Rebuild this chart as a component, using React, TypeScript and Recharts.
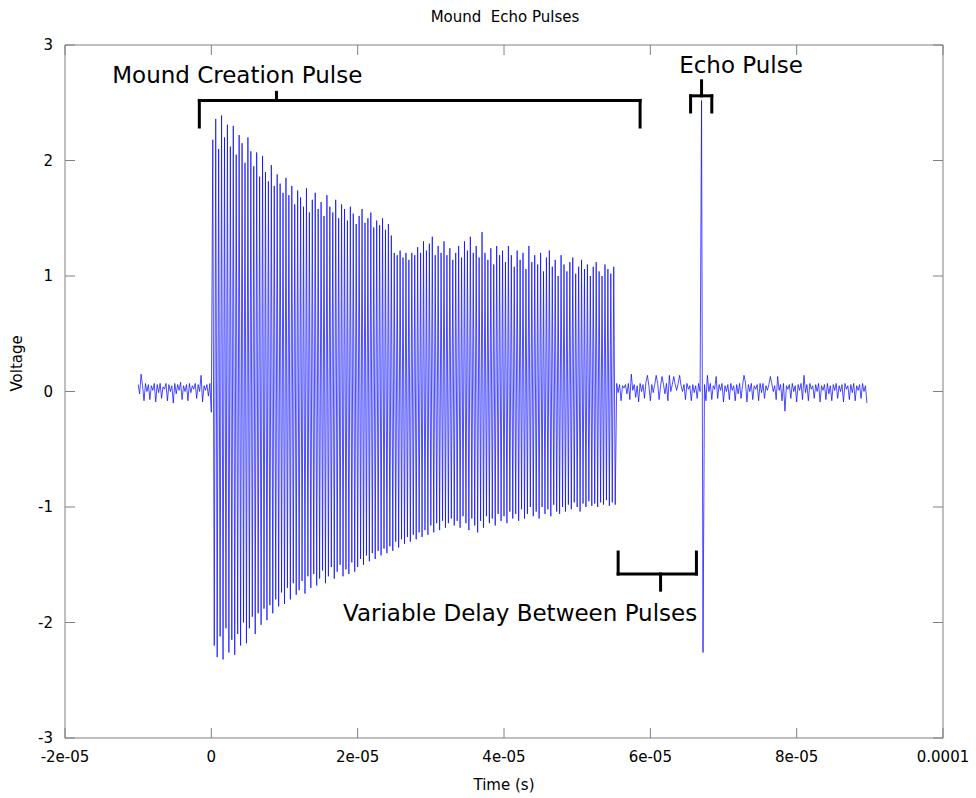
import { LineChart, Line, XAxis, YAxis, ReferenceArea, ReferenceLine, ReferenceDot } from 'recharts';

// scope capture: one sample every 0.2 us
const SAMPLE_STEP = 2e-7;
const LEAD_START = -1e-5;
const PULSE_START = 2e-7;
const GAP_START = 5.54e-5;
const ECHO_START = 6.7e-5;
const TRAIL_START = 6.74e-5;

// baseline noise before the trigger
const leadNoise = [
  0.06, -0.02, 0.15, 0.05, -0.08, 0.07, 0.0, 0.06, -0.07, 0.05, 0.01, 0.07, -0.09, 0.06, -0.01, 0.07, -0.06,
  0.04, 0.02, 0.07, -0.08, 0.06, 0.0, 0.05, -0.1, 0.07, -0.02, 0.06, 0.01, 0.08, -0.07, 0.05, 0.0, 0.06,
  -0.08, 0.07, -0.01, 0.05, 0.02, 0.07, -0.06, 0.06, 0.0, 0.14, -0.09, 0.05, 0.01, 0.06, -0.04, 0.07, -0.18,
];

// mound creation pulse, one positive and one negative peak per cycle
const pulseHighs = [
  2.18, 2.36, 2.1, 2.39, 2.2, 2.31, 2.12, 2.3, 2.05, 2.22,
  2.15, 1.98, 2.2, 2.08, 1.95, 2.07, 1.86, 2.04, 1.9, 1.82,
  1.96, 1.78, 1.88, 1.8, 1.72, 1.85, 1.7, 1.78, 1.62, 1.74,
  1.68, 1.6, 1.76, 1.55, 1.66, 1.72, 1.58, 1.64, 1.52, 1.7,
  1.6, 1.55, 1.66, 1.5, 1.62, 1.58, 1.48, 1.6, 1.54, 1.45,
  1.52, 1.58, 1.46, 1.5, 1.55, 1.42, 1.48, 1.44, 1.5, 1.4,
  1.45, 1.35, 1.2, 1.18, 1.22, 1.16, 1.2, 1.14, 1.2, 1.18,
  1.25, 1.2, 1.3, 1.22, 1.28, 1.34, 1.18, 1.26, 1.2, 1.3,
  1.18, 1.24, 1.14, 1.2, 1.26, 1.16, 1.3, 1.22, 1.34, 1.2,
  1.26, 1.16, 1.38, 1.2, 1.14, 1.24, 1.1, 1.26, 1.18, 1.22,
  1.12, 1.26, 1.18, 1.08, 1.22, 1.14, 1.2, 1.06, 1.26, 1.12,
  1.18, 1.1, 1.2, 1.04, 1.16, 1.22, 1.08, 1.14, 1.0, 1.18,
  1.1, 1.04, 1.12, 1.16, 1.02, 1.08, 1.14, 1.06, 1.1, 1.0,
  1.08, 1.12, 1.04, 1.0, 1.1, 1.06, 1.02, 1.08,
];
const pulseLows = [
  -2.2, -2.3, -2.12, -2.32, -2.05, -2.26, -2.15, -2.28, -2.1, -2.2,
  -2.0, -2.18, -2.05, -1.95, -2.1, -1.92, -2.02, -1.88, -1.98, -1.85,
  -1.92, -1.8, -1.86, -1.74, -1.84, -1.7, -1.8, -1.66, -1.76, -1.72,
  -1.64, -1.75, -1.6, -1.7, -1.58, -1.68, -1.62, -1.55, -1.66, -1.6,
  -1.52, -1.62, -1.56, -1.5, -1.6, -1.54, -1.58, -1.48, -1.56, -1.52,
  -1.45, -1.5, -1.42, -1.47, -1.4, -1.45, -1.38, -1.42, -1.36, -1.4,
  -1.34, -1.38, -1.3, -1.35, -1.28, -1.32, -1.26, -1.3, -1.24, -1.28,
  -1.22, -1.26, -1.2, -1.24, -1.16, -1.22, -1.14, -1.2, -1.12, -1.18,
  -1.14, -1.1, -1.16, -1.12, -1.18, -1.08, -1.14, -1.2, -1.1, -1.16,
  -1.22, -1.12, -1.18, -1.08, -1.14, -1.1, -1.16, -1.06, -1.12, -1.08,
  -1.14, -1.04, -1.1, -1.06, -1.12, -1.02, -1.1, -1.06, -1.0, -1.08,
  -1.04, -1.1, -1.0, -1.06, -1.02, -1.08, -0.98, -1.04, -1.06, -1.0,
  -1.04, -0.98, -1.02, -0.96, -1.0, -1.04, -0.97, -1.0, -0.95, -0.99,
  -0.97, -1.0, -0.96, -0.98, -0.94, -0.99, -0.96, -0.98,
];

// noise between the two pulses
const gapNoise = [
  0.07, -0.01, 0.06, -0.08, 0.05, 0.03, 0.06, -0.02, 0.07, -0.07, 0.15, 0.01, 0.06, -0.05, 0.05, -0.09,
  0.07, 0.0, 0.06, -0.06, 0.08, 0.14, 0.05, -0.08, 0.06, -0.01, 0.06, 0.14, 0.07, -0.07, 0.05, 0.13,
  0.06, -0.02, 0.07, -0.08, 0.14, 0.0, 0.06, 0.13, 0.06, 0.01, 0.07, 0.14, 0.05, 0.0, 0.06, -0.07,
  0.07, 0.02, 0.05, -0.08, 0.06, -0.01, 0.05, -0.06, 0.07, 0.0,
];

const echoPulse = [2.52, -2.26];

// noise after the echo
const trailNoise = [
  0.06, -0.08, 0.14, 0.0, 0.07, -0.07, 0.05, 0.02, 0.13, -0.06, 0.06, 0.01, 0.07, -0.09, 0.05, 0.0,
  0.06, -0.07, 0.07, 0.01, 0.05, -0.08, 0.06, -0.02, 0.07, -0.06, 0.05, 0.14, 0.08, -0.09, 0.06, 0.0,
  0.07, -0.07, 0.05, 0.02, 0.06, -0.08, 0.07, -0.01, 0.07, -0.06, 0.05, 0.01, 0.06, 0.13, 0.07, 0.0,
  0.05, -0.07, 0.13, 0.01, 0.06, -0.08, 0.07, -0.17, 0.05, 0.02, 0.06, -0.06, 0.07, 0.0, 0.05, -0.09,
  0.06, 0.01, 0.07, -0.07, 0.14, -0.01, 0.06, -0.08, 0.07, 0.02, 0.05, -0.06, 0.06, 0.0, 0.07, -0.09,
  0.05, 0.01, 0.06, -0.07, 0.07, -0.02, 0.05, -0.08, 0.06, 0.01, 0.07, -0.06, 0.05, 0.0, 0.06, -0.09,
  0.07, 0.02, 0.05, -0.07, 0.06, -0.01, 0.07, -0.08, 0.05, 0.01, 0.06, -0.06, 0.07, 0.0, 0.05, -0.1,
];

const xTicks = [-2e-5, 0, 2e-5, 4e-5, 6e-5, 8e-5, 1e-4];
const xTickLabels = ['-2e-05', '0', '2e-05', '4e-05', '6e-05', '8e-05', '0.0001'];
const yTicks = [-3, -2, -1, 0, 1, 2, 3];

// bracket annotations: span [from, to] at level, tips reach tipLevel, stem at stemX up/down to stemLevel
const brackets = [
  { from: -1.64e-6, to: 5.86e-5, level: 2.52, tipLevel: 2.29, stemX: 8.9e-6, stemLevel: 2.59 },
  { from: 6.55e-5, to: 6.84e-5, level: 2.56, tipLevel: 2.42, stemX: 6.7e-5, stemLevel: 2.69 },
  { from: 5.56e-5, to: 6.63e-5, level: -1.58, tipLevel: -1.39, stemX: 6.14e-5, stemLevel: -1.72 },
];
const notes = [
  { t: 3.55e-6, v: 2.74, text: 'Mound Creation Pulse' },
  { t: 7.24e-5, v: 2.83, text: 'Echo Pulse' },
  { t: 4.22e-5, v: -1.92, text: 'Variable Delay Between Pulses' },
];

const run = (start: number, values: number[]) =>
  values.map((v, i) => ({ t: start + i * SAMPLE_STEP, v }));

const pulse = pulseHighs.flatMap((h, i) => [h, pulseLows[i]]);

const samples = [
  ...run(LEAD_START, leadNoise),
  ...run(PULSE_START, pulse),
  ...run(GAP_START, gapNoise),
  ...run(ECHO_START, echoPulse),
  ...run(TRAIL_START, trailNoise),
];

const FONT = "'DejaVu Sans', sans-serif";
const WIDTH = 976;
const HEIGHT = 798;
const PLOT_TOP = 45;
const PLOT_BOTTOM = 738;
const PLOT_LEFT = 65;
const PLOT_RIGHT = 943;
const FRAME = '#808080';

function TimeTick(props: any) {
  const { x, payload } = props;
  const label = xTickLabels[xTicks.indexOf(payload.value)];
  return (
    <g>
      <line x1={x} x2={x} y1={PLOT_BOTTOM} y2={PLOT_BOTTOM - 10} stroke={FRAME} />
      <line x1={x} x2={x} y1={PLOT_TOP} y2={PLOT_TOP + 10} stroke={FRAME} />
      <text x={x} y={PLOT_BOTTOM + 24} textAnchor="middle" fontSize={15} fontFamily={FONT} fill="#000">
        {label}
      </text>
    </g>
  );
}

function VoltTick(props: any) {
  const { y, payload } = props;
  return (
    <g>
      <line x1={PLOT_LEFT} x2={PLOT_LEFT + 10} y1={y} y2={y} stroke={FRAME} />
      <line x1={PLOT_RIGHT} x2={PLOT_RIGHT - 10} y1={y} y2={y} stroke={FRAME} />
      <text x={PLOT_LEFT - 12} y={y + 5} textAnchor="end" fontSize={15} fontFamily={FONT} fill="#000">
        {payload.value}
      </text>
    </g>
  );
}

export default function App() {
  return (
    <div style={{ position: 'absolute', left: 0, top: 0, width: WIDTH, height: HEIGHT, background: '#fff' }}>
      <div
        style={{
          position: 'absolute',
          top: 8,
          left: 0,
          width: WIDTH + 34,
          textAlign: 'center',
          fontFamily: FONT,
          fontSize: 15,
          whiteSpace: 'pre',
        }}
      >
        {'Mound  Echo Pulses'}
      </div>
      <LineChart
        width={WIDTH}
        height={HEIGHT}
        data={samples}
        margin={{ top: PLOT_TOP, right: WIDTH - PLOT_RIGHT, bottom: 0, left: 0 }}
      >
        <XAxis
          dataKey="t"
          type="number"
          domain={[-2e-5, 1e-4]}
          ticks={xTicks}
          interval={0}
          height={HEIGHT - PLOT_BOTTOM}
          axisLine={false}
          tickLine={false}
          tick={<TimeTick />}
          label={{ value: 'Time (s)', position: 'insideBottom', offset: 8, fontSize: 15, fontFamily: FONT, fill: '#000' }}
        />
        <YAxis
          type="number"
          domain={[-3, 3]}
          ticks={yTicks}
          interval={0}
          width={PLOT_LEFT}
          axisLine={false}
          tickLine={false}
          tick={<VoltTick />}
          label={{ value: 'Voltage', angle: -90, position: 'insideLeft', offset: 17, fontSize: 15, fontFamily: FONT, fill: '#000' }}
        />
        <ReferenceArea x1={-2e-5} x2={1e-4} y1={-3} y2={3} fill="none" stroke={FRAME} strokeWidth={1} />
        <Line
          dataKey="v"
          type="linear"
          stroke="#0000ff"
          strokeWidth={0.7}
          dot={false}
          activeDot={false}
          isAnimationActive={false}
        />
        {brackets.flatMap((b, i) => [
          <ReferenceLine key={`l${i}`} segment={[{ x: b.from, y: b.tipLevel }, { x: b.from, y: b.level }]} stroke="#000" strokeWidth={3} strokeLinecap="square" />,
          <ReferenceLine key={`h${i}`} segment={[{ x: b.from, y: b.level }, { x: b.to, y: b.level }]} stroke="#000" strokeWidth={3} strokeLinecap="square" />,
          <ReferenceLine key={`r${i}`} segment={[{ x: b.to, y: b.level }, { x: b.to, y: b.tipLevel }]} stroke="#000" strokeWidth={3} strokeLinecap="square" />,
          <ReferenceLine key={`s${i}`} segment={[{ x: b.stemX, y: b.level }, { x: b.stemX, y: b.stemLevel }]} stroke="#000" strokeWidth={3} strokeLinecap="square" />,
        ])}
        {notes.map((n) => (
          <ReferenceDot
            key={n.text}
            x={n.t}
            y={n.v}
            r={0}
            fill="none"
            stroke="none"
            label={{ value: n.text, position: 'center', fontSize: 23, fontFamily: FONT, fill: '#000' }}
          />
        ))}
      </LineChart>
    </div>
  );
}
